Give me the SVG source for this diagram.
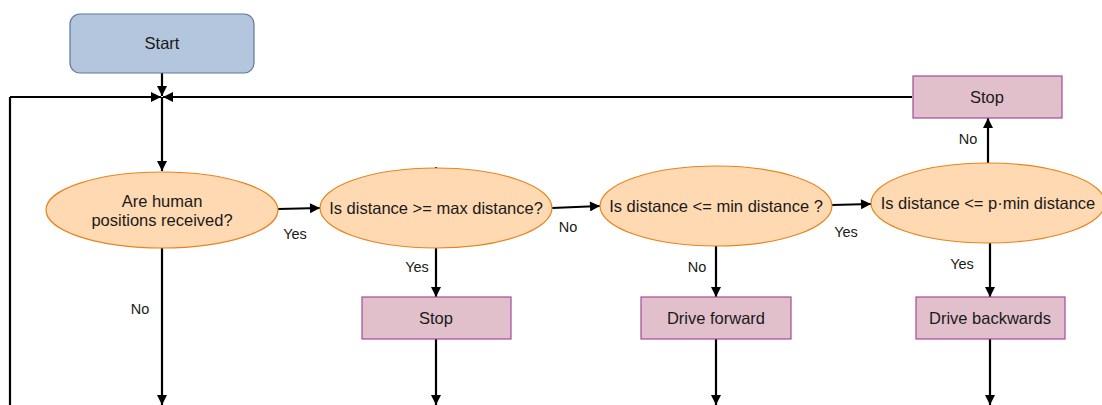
<svg xmlns="http://www.w3.org/2000/svg" width="1102" height="405" viewBox="0 0 1102 405">
  <defs>
    <marker id="arrow" viewBox="0 0 10 10" refX="10" refY="5" markerWidth="11" markerHeight="10" markerUnits="userSpaceOnUse" orient="auto">
      <path d="M0,0 L10,5 L0,10 z" fill="#000"/>
    </marker>
    <style>
      .decision { fill: #ffd9b1; stroke: #e8841f; stroke-width: 1.2; }
      .action { fill: #e1c0cb; stroke: #a5499d; stroke-width: 1.2; }
      .start { fill: #b3c6dd; stroke: #5d7a99; stroke-width: 1.2; }
      .label { font-family: "Liberation Sans", Arial, sans-serif; font-size: 16.5px; fill: #1a1a1a; text-anchor: middle; }
      .edge-label { font-family: "Liberation Sans", Arial, sans-serif; font-size: 14.5px; fill: #1a1a1a; text-anchor: middle; }
      .edge { fill: none; stroke: #000; stroke-width: 2.2; }
      .edge-arrow { fill: none; stroke: #000; stroke-width: 2.2; marker-end: url(#arrow); }
    </style>
  </defs>

  <g id="connectors">
    <!-- loop back line from the left and from the top-right Stop -->
    <path class="edge" d="M10,405 L10,97"/>
    <path class="edge-arrow" d="M10,97 L161,97"/>
    <path class="edge-arrow" d="M912,97 L163,97"/>
    <path class="edge-arrow" d="M162,73 L162,96"/>
    <path class="edge-arrow" d="M162,97 L162,171"/>
    <!-- decision chain -->
    <path class="edge-arrow" d="M278,209 L320,208"/>
    <path class="edge-arrow" d="M552,208 L600,206"/>
    <path class="edge-arrow" d="M832,205 L871,204"/>
    <path class="edge-arrow" d="M988,163 L988,118"/>
    <path class="edge" d="M436,167 L436,170" stroke-width="1"/>
    <!-- downward outputs -->
    <path class="edge-arrow" d="M162,248 L162,405"/>
    <path class="edge-arrow" d="M436,248 L436,297"/>
    <path class="edge-arrow" d="M436,339 L436,405"/>
    <path class="edge-arrow" d="M716,246 L716,297"/>
    <path class="edge-arrow" d="M716,339 L716,405"/>
    <path class="edge-arrow" d="M990,243 L990,297"/>
    <path class="edge-arrow" d="M990,339 L990,405"/>
    <!-- edge labels -->
    <text class="edge-label" x="295" y="239">Yes</text>
    <text class="edge-label" x="568" y="232">No</text>
    <text class="edge-label" x="846" y="237">Yes</text>
    <text class="edge-label" x="140" y="314">No</text>
    <text class="edge-label" x="417" y="272">Yes</text>
    <text class="edge-label" x="697" y="272">No</text>
    <text class="edge-label" x="962" y="269">Yes</text>
    <text class="edge-label" x="968" y="144">No</text>
  </g>

  <g id="start">
    <rect class="start" x="70" y="14" width="184" height="59" rx="10" ry="10"/>
    <text class="label" x="162" y="49">Start</text>
  </g>

  <g id="q-human">
    <ellipse class="decision" cx="162" cy="210" rx="116" ry="38"/>
    <text class="label" x="162" y="207">Are human</text>
    <text class="label" x="162" y="226">positions received?</text>
  </g>

  <g id="q-max">
    <ellipse class="decision" cx="436" cy="208" rx="116" ry="40"/>
    <text class="label" x="436" y="214">Is distance &gt;= max distance?</text>
  </g>

  <g id="q-min">
    <ellipse class="decision" cx="716" cy="206" rx="116" ry="40"/>
    <text class="label" x="716" y="212">Is distance &lt;= min distance ?</text>
  </g>

  <g id="q-pmin">
    <ellipse class="decision" cx="988" cy="203" rx="117" ry="40"/>
    <text class="label" x="988" y="209">Is distance &lt;= p·min distance</text>
  </g>

  <g id="stop-top">
    <rect class="action" x="913" y="76" width="149" height="42"/>
    <text class="label" x="987" y="103">Stop</text>
  </g>

  <g id="stop">
    <rect class="action" x="362" y="297" width="149" height="42"/>
    <text class="label" x="436" y="324">Stop</text>
  </g>

  <g id="drive-forward">
    <rect class="action" x="641" y="297" width="150" height="42"/>
    <text class="label" x="716" y="324">Drive forward</text>
  </g>

  <g id="drive-backwards">
    <rect class="action" x="916" y="297" width="149" height="42"/>
    <text class="label" x="990" y="324">Drive backwards</text>
  </g>
</svg>
